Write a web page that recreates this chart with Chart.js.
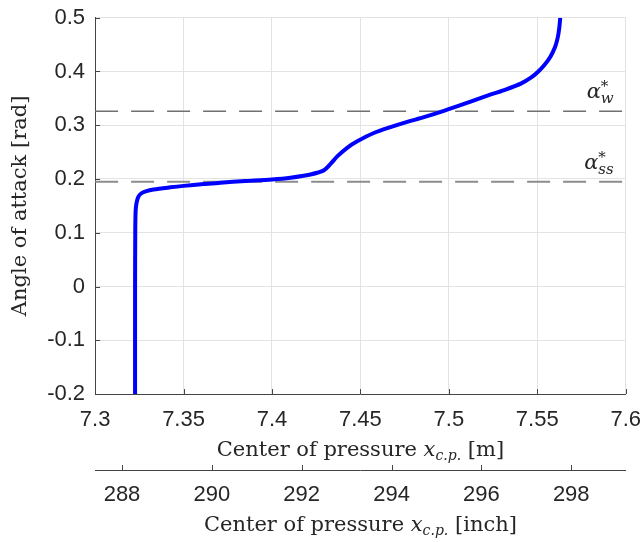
<!DOCTYPE html>
<html>
<head>
<meta charset="utf-8">
<script src="https://cdn.jsdelivr.net/npm/chart.js@4"></script>
<style>
  body { margin: 0; background: #fff; }
  #wrap { width: 643px; height: 542px; }
</style>
</head>
<body>
<div id="wrap"><canvas id="cpChart"></canvas></div>
<script>
// dados
const xcp = [7.3226, 7.3226, 7.3227, 7.3229, 7.3234, 7.3243, 7.3260, 7.3290, 7.3330, 7.3425,
             7.3500, 7.3613, 7.3708, 7.3850, 7.4000, 7.4104, 7.4218, 7.4293, 7.4331, 7.4369,
             7.4425, 7.4482, 7.4576, 7.4670, 7.4765, 7.4859, 7.4972, 7.5123, 7.5218, 7.5313,
             7.5407, 7.5464, 7.5506, 7.5545, 7.5575, 7.5600, 7.5615, 7.5624, 7.5630];
const alpha = [-0.2, 0.0, 0.1, 0.14, 0.155, 0.166, 0.173, 0.1775, 0.1805, 0.1845,
               0.1872, 0.1905, 0.1932, 0.1962, 0.1992, 0.2025, 0.2085, 0.2160, 0.2280, 0.2420,
               0.2580, 0.2700, 0.2855, 0.2965, 0.3063, 0.3150, 0.3267, 0.3440, 0.3550, 0.3655,
               0.3775, 0.3885, 0.4000, 0.4140, 0.4280, 0.4450, 0.4620, 0.4800, 0.5];
const alphaW = 0.326;
const alphaSS = 0.195;
const xRange = [7.3, 7.6];
const yRange = [-0.2, 0.5];
const mTicks = [7.3, 7.35, 7.4, 7.45, 7.5, 7.55, 7.6];
const inchTicks = [288, 290, 292, 294, 296, 298];
const yTicks = [-0.2, -0.1, 0, 0.1, 0.2, 0.3, 0.4, 0.5];
const M_PER_INCH = 0.0254;

const sans = '"Liberation Sans", Arial, sans-serif';
const serif = '"DejaVu Serif", "Liberation Serif", serif';
const textColor = '#262626';
const axisColor = '#444';

function fmt(v, d) {
    return String(Number(v.toFixed(d)));
}

// marcas de tick para dentro (estilo matlab) + textos com indices
const extrasPlugin = {
    id: 'extras',
    afterDraw(chart) {
        const ctx = chart.ctx;
        const {x, y, x2} = chart.scales;
        const area = chart.chartArea;
        ctx.save();
        ctx.strokeStyle = axisColor;
        ctx.lineWidth = 1;
        ctx.beginPath();
        x.ticks.forEach(t => {
            const px = Math.round(x.getPixelForValue(t.value)) + 0.5;
            ctx.moveTo(px, area.bottom);
            ctx.lineTo(px, area.bottom - 5);
        });
        y.ticks.forEach(t => {
            const py = Math.round(y.getPixelForValue(t.value)) + 0.5;
            ctx.moveTo(area.left, py);
            ctx.lineTo(area.left + 5, py);
        });
        x2.ticks.forEach(t => {
            const px = Math.round(x2.getPixelForValue(t.value)) + 0.5;
            ctx.moveTo(px, x2.top);
            ctx.lineTo(px, x2.top - 5);
        });
        ctx.stroke();

        // titulos dos eixos x com x_{c.p.}
        const cx = (area.left + area.right) / 2;
        [[x, '[m]', 62], [x2, '[inch]', 61]].forEach(([sc, unit, off]) => {
            drawRich(ctx, cx, sc.top + off, [
                { text: 'Center of pressure ', font: `21px ${serif}`, dy: 0 },
                { text: 'x', font: `italic 21px ${serif}`, dy: 0 },
                { text: 'c.p.', font: `italic 14px ${serif}`, dy: 4 },
                { text: ' ' + unit, font: `21px ${serif}`, dy: 0 }
            ]);
        });

        // rotulos alpha*
        [[alphaW, 'w'], [alphaSS, 'ss']].forEach(([val, sub]) => {
            const py = y.getPixelForValue(val);
            const right = area.right - 12;
            ctx.font = `italic 15px ${serif}`;
            const subW = ctx.measureText(sub).width;
            ctx.font = `italic 21px ${serif}`;
            const aW = ctx.measureText('α').width;
            const x0 = right - subW - aW;
            ctx.fillStyle = textColor;
            ctx.textBaseline = 'alphabetic';
            ctx.textAlign = 'left';
            ctx.fillText('α', x0, py - 13);
            ctx.font = `15px ${serif}`;
            ctx.fillText('*', x0 + aW, py - 20);
            ctx.font = `italic 15px ${serif}`;
            ctx.fillText(sub, x0 + aW, py - 8);
        });
        ctx.restore();
    }
};

function drawRich(ctx, cx, baseline, parts) {
    let total = 0;
    parts.forEach(p => { ctx.font = p.font; p.w = ctx.measureText(p.text).width; total += p.w; });
    let px = cx - total / 2;
    ctx.fillStyle = textColor;
    ctx.textAlign = 'left';
    ctx.textBaseline = 'alphabetic';
    parts.forEach(p => {
        ctx.font = p.font;
        ctx.fillText(p.text, px, baseline + p.dy);
        px += p.w;
    });
}

document.addEventListener('DOMContentLoaded', function() {
    const ctx = document.getElementById('cpChart').getContext('2d');
    const curve = xcp.map((v, i) => ({ x: v, y: alpha[i] }));

    new Chart(ctx, {
        type: 'scatter',
        data: {
            datasets: [{
                data: curve,
                showLine: true,
                borderColor: '#0000ff',
                borderWidth: 4,
                pointRadius: 0,
                tension: 0.3,
                clip: 0,
                order: 0
            }, {
                data: [{ x: xRange[0], y: alphaW }, { x: xRange[1], y: alphaW }],
                showLine: true,
                borderColor: '#707070',
                borderWidth: 1.5,
                borderDash: [23, 13],
                pointRadius: 0,
                order: 1
            }, {
                data: [{ x: xRange[0], y: alphaSS }, { x: xRange[1], y: alphaSS }],
                showLine: true,
                borderColor: '#8c8c8c',
                borderWidth: 2,
                borderDash: [23, 13],
                pointRadius: 0,
                order: 1
            }]
        },
        options: {
            responsive: true,
            maintainAspectRatio: false,
            animation: false,
            layout: { padding: { top: 0, left: 4, right: 0, bottom: 0 } },
            plugins: {
                legend: { display: false },
                tooltip: { enabled: false }
            },
            scales: {
                x: {
                    type: 'linear',
                    position: 'bottom',
                    weight: 0,
                    min: xRange[0],
                    max: xRange[1],
                    afterBuildTicks: s => { s.ticks = mTicks.map(v => ({ value: v })); },
                    ticks: {
                        font: { family: sans, size: 22, lineHeight: 2.18 },
                        color: textColor,
                        padding: 2,
                        maxRotation: 0,
                        callback: v => fmt(v, 2)
                    },
                    grid: { color: '#e3e3e3', drawTicks: false },
                    border: { display: true, color: axisColor, width: 1 },
                    title: {
                        display: true,
                        text: 'Center of pressure xc.p. [m]',
                        color: 'rgba(0,0,0,0)',
                        font: { family: serif, size: 22, lineHeight: 1 },
                        padding: { top: 1, bottom: 1 }
                    }
                },
                x2: {
                    type: 'linear',
                    position: 'bottom',
                    weight: 1,
                    min: xRange[0] / M_PER_INCH,
                    max: xRange[1] / M_PER_INCH,
                    afterBuildTicks: s => { s.ticks = inchTicks.map(v => ({ value: v })); },
                    ticks: {
                        font: { family: sans, size: 22, lineHeight: 2.09 },
                        color: textColor,
                        padding: 2,
                        maxRotation: 0,
                        callback: v => fmt(v, 0)
                    },
                    grid: { drawOnChartArea: false, drawTicks: false },
                    border: { display: true, color: axisColor, width: 1 },
                    title: {
                        display: true,
                        text: 'Center of pressure xc.p. [inch]',
                        color: 'rgba(0,0,0,0)',
                        font: { family: serif, size: 22, lineHeight: 1 },
                        padding: 0
                    }
                },
                y: {
                    type: 'linear',
                    min: yRange[0],
                    max: yRange[1],
                    afterBuildTicks: s => { s.ticks = yTicks.map(v => ({ value: v })); },
                    ticks: {
                        font: { family: sans, size: 22, lineHeight: 0.7 },
                        color: textColor,
                        padding: 10,
                        callback: v => fmt(v, 1)
                    },
                    grid: { color: '#e3e3e3', drawTicks: false },
                    border: { display: true, color: axisColor, width: 1 },
                    title: {
                        display: true,
                        text: 'Angle of attack [rad]',
                        color: textColor,
                        font: { family: serif, size: 21 },
                        padding: { top: 4, bottom: 4 }
                    }
                }
            }
        },
        plugins: [extrasPlugin]
    });
});
</script>
</body>
</html>
